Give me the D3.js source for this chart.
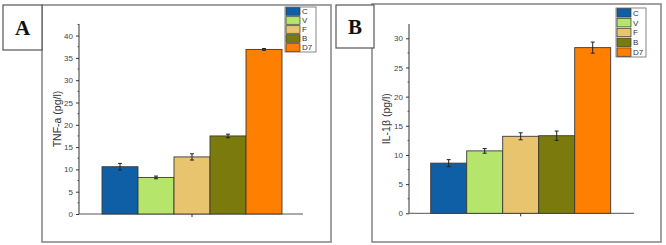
<!DOCTYPE html>
<html><head><meta charset="utf-8">
<script src="https://cdn.jsdelivr.net/npm/d3@7/dist/d3.min.js"></script>
<style>body{margin:0;background:#fff}svg{display:block}</style>
</head><body>
<script>
const categories = ["C","V","F","B","D7"];
const colors = ["#0e5fa6","#b5e66b","#e9c46f","#7b7b0d","#ff7f00"];
const tnfValues = [10.6, 8.2, 12.8, 17.5, 36.9];
const tnfErrors = [0.75, 0.3, 0.7, 0.4, 0.2];
const il1Values = [8.6, 10.7, 13.2, 13.3, 28.4];
const il1Errors = [0.6, 0.4, 0.6, 0.8, 0.95];
const tnfTicks = [0,5,10,15,20,25,30,35,40];
const il1Ticks = [0,5,10,15,20,25,30];

const svg = d3.select("body").append("svg").attr("width",666).attr("height",245);

const panels = [
  {label:"A", frame:[42,5,331,242], lbox:[3,5,42,50], axX:79, axR:303, y0:214, yTop:24, domain:[0,42.6],
   ticks:tnfTicks, values:tnfValues, errors:tnfErrors, bx:[102,282], title:"TNF-a (pg/l)", titleX:57,
   legend:[285,7,316,52]},
  {label:"B", frame:[372,4,661,242], lbox:[336,5,374,48], axX:409, axR:634, y0:213.3, yTop:24, domain:[0,32.45],
   ticks:il1Ticks, values:il1Values, errors:il1Errors, bx:[430.7,610.7], title:"IL-1β (pg/l)", titleX:386,
   legend:[616,8,646,57]}
];

panels.forEach(p => {
  const g = svg.append("g");
  g.append("rect").attr("x",p.frame[0]).attr("y",p.frame[1])
    .attr("width",p.frame[2]-p.frame[0]).attr("height",p.frame[3]-p.frame[1])
    .attr("fill","none").attr("stroke","#8a8a8a").attr("stroke-width",1.6);
  g.append("rect").attr("x",p.lbox[0]).attr("y",p.lbox[1])
    .attr("width",p.lbox[2]-p.lbox[0]).attr("height",p.lbox[3]-p.lbox[1])
    .attr("fill","#fff").attr("stroke","#555").attr("stroke-width",1.2);
  g.append("text").attr("x",(p.lbox[0]+p.lbox[2])/2).attr("y",(p.lbox[1]+p.lbox[3])/2+7)
    .attr("text-anchor","middle").attr("font-family","Liberation Serif, serif")
    .attr("font-weight","bold").attr("font-size",21).attr("fill","#111").text(p.label);

  const y = d3.scaleLinear().domain(p.domain).range([p.y0,p.yTop]);
  const x = d3.scaleBand().domain(categories).range(p.bx).paddingInner(0).paddingOuter(0);

  const yAxis = d3.axisLeft(y).tickValues(p.ticks).tickSize(3).tickPadding(3);
  const ya = g.append("g").attr("transform",`translate(${p.axX},0)`).call(yAxis);
  ya.select(".domain").attr("stroke","#333").attr("d",`M0,${p.y0}V${p.yTop}`);
  ya.selectAll(".tick line").attr("stroke","#333");
  ya.selectAll("text").attr("font-family","Liberation Sans, Arial, sans-serif").attr("font-size",8).attr("fill","#444");
  const minor = d3.range(2.5, p.domain[1], 5);
  g.append("g").selectAll("line").data(minor).join("line")
    .attr("x1",p.axX-1.5).attr("x2",p.axX).attr("y1",d=>y(d)).attr("y2",d=>y(d))
    .attr("stroke","#333").attr("stroke-width",0.8);

  g.append("line").attr("x1",p.axX).attr("x2",p.axR).attr("y1",p.y0).attr("y2",p.y0)
    .attr("stroke","#555").attr("stroke-width",1);
  const cx = (p.bx[0]+p.bx[1])/2;
  g.append("line").attr("x1",cx).attr("x2",cx).attr("y1",p.y0).attr("y2",p.y0+3).attr("stroke","#333");

  g.append("g").selectAll("rect").data(p.values).join("rect")
    .attr("x",(d,i)=>x(categories[i])).attr("width",x.bandwidth())
    .attr("y",d=>y(d)).attr("height",d=>p.y0-y(d))
    .attr("fill",(d,i)=>colors[i]).attr("stroke","#3a3a3a").attr("stroke-width",0.9);

  const eg = g.append("g").attr("stroke","#222").attr("stroke-width",1);
  p.values.forEach((v,i) => {
    const c = x(categories[i]) + x.bandwidth()/2;
    const e = p.errors[i];
    eg.append("line").attr("x1",c).attr("x2",c).attr("y1",y(v+e)).attr("y2",y(v-e));
    eg.append("line").attr("x1",c-2).attr("x2",c+2).attr("y1",y(v+e)).attr("y2",y(v+e));
    eg.append("line").attr("x1",c-2).attr("x2",c+2).attr("y1",y(v-e)).attr("y2",y(v-e));
  });

  g.append("text").attr("transform",`translate(${p.titleX},${(p.y0+p.yTop)/2}) rotate(-90)`)
    .attr("text-anchor","middle").attr("dy","0.35em")
    .attr("font-family","Liberation Sans, Arial, sans-serif").attr("font-size",10.5).attr("fill","#333")
    .text(p.title);

  const [lx0,ly0,lx1,ly1] = p.legend;
  g.append("rect").attr("x",lx0).attr("y",ly0).attr("width",lx1-lx0).attr("height",ly1-ly0)
    .attr("fill","#fff").attr("stroke","#666").attr("stroke-width",0.8);
  const rowH = (ly1-ly0)/categories.length;
  categories.forEach((c,i) => {
    g.append("rect").attr("x",lx0+1).attr("y",ly0+i*rowH+0.7).attr("width",14).attr("height",rowH-1.4)
      .attr("fill",colors[i]).attr("stroke","#333").attr("stroke-width",0.7);
    g.append("text").attr("x",lx0+17).attr("y",ly0+i*rowH+rowH/2).attr("dy","0.35em")
      .attr("font-family","Liberation Sans, Arial, sans-serif").attr("font-size",8).attr("fill","#333").text(c);
  });
});
</script>
</body></html>
